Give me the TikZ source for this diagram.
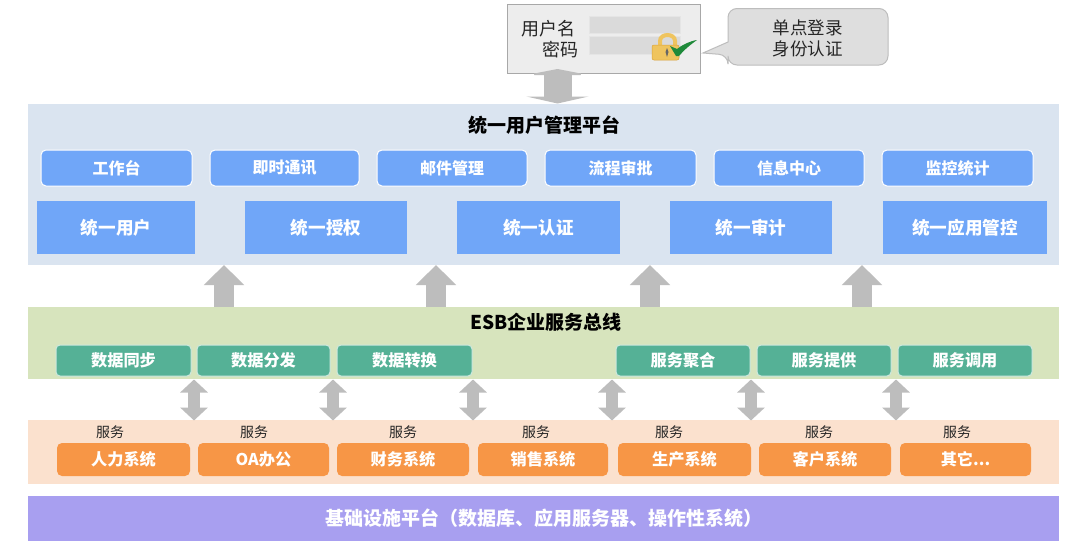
\documentclass[tikz,border=0pt]{standalone}
\usepackage{fontspec}
\setmainfont{Noto Sans CJK SC}
\usetikzlibrary{arrows.meta,calc}
\definecolor{bandblue}{HTML}{DAE4F0}
\definecolor{bandgreen}{HTML}{D7E4BD}
\definecolor{bandorange}{HTML}{FBE1CE}
\definecolor{bandpurple}{HTML}{A89FF0}
\definecolor{boxblue}{HTML}{70A6F8}
\definecolor{boxgreen}{HTML}{55B196}
\definecolor{boxorange}{HTML}{F79646}
\definecolor{arrowgray}{HTML}{BDBDBD}
\definecolor{loginfill}{HTML}{EDEDED}
\definecolor{loginline}{HTML}{A8A8A8}
\definecolor{fieldfill}{HTML}{DADADA}
\definecolor{calloutfill}{HTML}{DEDEDE}
\definecolor{textdark}{HTML}{262626}
\definecolor{lockgold}{HTML}{EFC45E}
\definecolor{lockedge}{HTML}{D9A23A}
\definecolor{tickgreen}{HTML}{1F8A3A}
\tikzset{
  x=1pt,y=-1pt,
  band/.style={draw=none,inner sep=0pt,outer sep=0pt},
  bandtitle/.style={inner sep=0pt,font=\fontsize{19}{21}\selectfont\bfseries,text=black},
  basebox/.style={inner sep=0pt,outer sep=0pt,text=white,font=\fontsize{16.2}{18}\selectfont\bfseries},
  smallblue/.style={basebox,fill=boxblue,draw=white,line width=1pt,rounded corners=5pt,minimum height=36pt,font=\fontsize{16}{18}\selectfont\bfseries},
  bigblue/.style={basebox,fill=boxblue,minimum height=53pt,font=\fontsize{17.6}{19}\selectfont\bfseries},
  greenbox/.style={basebox,fill=boxgreen,draw=white!70!boxgreen,line width=1pt,rounded corners=4pt,minimum height=31pt},
  orangebox/.style={basebox,fill=boxorange,rounded corners=5pt,minimum height=33pt},
  svclabel/.style={inner sep=0pt,font=\fontsize{14}{16}\selectfont,text=textdark},
  uparrow/.style={draw=arrowgray,line width=20pt,-{Triangle[length=20pt,width=39pt]}},
  bothway/.style={draw=arrowgray,line width=12pt,{Triangle[length=13pt,width=27pt]}-{Triangle[length=13pt,width=27pt]}},
  loginarrow/.style={draw=arrowgray,line width=28pt,{Triangle[length=6pt,width=62pt]}-{Triangle[length=7pt,width=62pt]}},
  field/.style={fill=fieldfill,draw=white!70!loginline,line width=.6pt,inner sep=0pt,minimum width=91pt,minimum height=17.5pt},
  logintext/.style={inner sep=0pt,font=\fontsize{18}{20}\selectfont,text=textdark},
}
\begin{document}
\begin{tikzpicture}
\useasboundingbox (0,0) rectangle (1080,554);
\fill[white] (0,0) rectangle (1080,554);

% bands
\node[band,fill=bandblue,minimum width=1031pt,minimum height=161pt] (userband) at (543.5,184.5) {};
\node[band,fill=bandgreen,minimum width=1031pt,minimum height=72pt] (esbband) at (543.5,343) {};
\node[band,fill=bandorange,minimum width=1031pt,minimum height=64pt] (svcband) at (543.5,452) {};
\node[band,fill=bandpurple,minimum width=1031pt,minimum height=45pt,text=white,font=\fontsize{19}{21}\selectfont\bfseries] (infra) at (543.5,518.5) {基础设施平台（数据库、应用服务器、操作性系统）};

% titles
\node[bandtitle] (usertitle) at (544,125.5) {统一用户管理平台};
\node[bandtitle] (esbtitle) at (546,322) {ESB企业服务总线};

% login panel
\node[fill=loginfill,draw=loginline,line width=1pt,inner sep=0pt,minimum width=193pt,minimum height=69pt] (login) at (603.5,38.5) {};
\node[field] (userfield) at (634.5,25) {};
\node[field] (passfield) at (634.5,45.5) {};
\node[logintext,anchor=east] (userlabel) at (575.5,29) {用户名};
\node[logintext,anchor=east] (passlabel) at (579,50) {密码};

% padlock and tick
\draw[draw=lockgold,line width=4pt] (660,47) -- (660,41) .. controls (660,33) and (675,33) .. (675,41) -- (675,47);
\draw[fill=lockgold,draw=lockedge,line width=.5pt,rounded corners=2pt] (652,45) rectangle (679,60);
\fill[black!60] (667,48) -- (668.5,52) -- (667,57) -- (665.5,52) -- cycle;
\fill[tickgreen] (670,46) -- (677,49) .. controls (682,45) and (690,41) .. (697,40) .. controls (690,45) and (684,50) .. (679,56) -- (676,56) -- cycle;

% callout
\draw[fill=calloutfill,draw=arrowgray,line width=1pt] (728,42) {[rounded corners=9pt] -- (728,8.5) -- (888,8.5) -- (888,65) -- (728,65) -- (728,55)} -- (703,53) -- cycle;
\node[inner sep=0pt,align=center,font=\fontsize{17.5}{20.5}\selectfont,text=textdark] (sso) at (807.5,38.5) {单点登录\\身份认证};

% login arrow
\coordinate (lgA) at (557.5,69);
\coordinate (lgB) at (557.5,103.5);
\draw[loginarrow] (lgA) -- (lgB);

% user platform row 1
\node[smallblue,minimum width=151pt] (a1) at (116.5,168) {工作台};
\node[smallblue,minimum width=149pt] (a2) at (284.5,168) {即时通讯};
\node[smallblue,minimum width=150pt] (a3) at (452,168) {邮件管理};
\node[smallblue,minimum width=151pt] (a4) at (620.5,168) {流程审批};
\node[smallblue,minimum width=150pt] (a5) at (789,168) {信息中心};
\node[smallblue,minimum width=151pt] (a6) at (957.5,168) {监控统计};

% user platform row 2
\node[bigblue,minimum width=158pt] (b1) at (116,227.5) {统一用户};
\node[bigblue,minimum width=162pt] (b2) at (326,227.5) {统一授权};
\node[bigblue,minimum width=163pt] (b3) at (538.5,227.5) {统一认证};
\node[bigblue,minimum width=162pt] (b4) at (751,227.5) {统一审计};
\node[bigblue,minimum width=164pt] (b5) at (965,227.5) {统一应用管控};

% ESB row
\node[greenbox,minimum width=135pt] (c1) at (123.5,360.5) {数据同步};
\node[greenbox,minimum width=133pt] (c2) at (263.5,360.5) {数据分发};
\node[greenbox,minimum width=135pt] (c3) at (404.5,360.5) {数据转换};
\node[greenbox,minimum width=134pt] (c4) at (683,360.5) {服务聚合};
\node[greenbox,minimum width=134pt] (c5) at (824,360.5) {服务提供};
\node[greenbox,minimum width=134pt] (c6) at (965,360.5) {服务调用};

% service row
\node[orangebox,minimum width=133pt] (d1) at (123.5,459.5) {人力系统};
\node[orangebox,minimum width=131pt] (d2) at (263.5,459.5) {OA办公};
\node[orangebox,minimum width=132pt] (d3) at (403,459.5) {财务系统};
\node[orangebox,minimum width=130pt] (d4) at (543,459.5) {销售系统};
\node[orangebox,minimum width=133pt] (d5) at (684.5,459.5) {生产系统};
\node[orangebox,minimum width=132pt] (d6) at (825,459.5) {客户系统};
\node[orangebox,minimum width=131pt] (d7) at (965.5,459.5) {其它...};

% service labels
\node[svclabel] (s1) at (110,432) {服务};
\node[svclabel] (s2) at (254,432) {服务};
\node[svclabel] (s3) at (403,432) {服务};
\node[svclabel] (s4) at (536,432) {服务};
\node[svclabel] (s5) at (669,432) {服务};
\node[svclabel] (s6) at (819,432) {服务};
\node[svclabel] (s7) at (957,432) {服务};

% arrows between bands
\foreach \n/\xx in {1/224,2/436,3/650,4/862}{
  \coordinate (upS\n) at (\xx,307);
  \coordinate (upE\n) at (\xx,265);
  \draw[uparrow] (upS\n) -- (upE\n);
}
\foreach \n/\xx in {1/194,2/333,3/473,4/612,5/751,6/896}{
  \coordinate (bwT\n) at (\xx,379.5);
  \coordinate (bwB\n) at (\xx,420.5);
  \draw[bothway] (bwT\n) -- (bwB\n);
}
\end{tikzpicture}
\end{document}
